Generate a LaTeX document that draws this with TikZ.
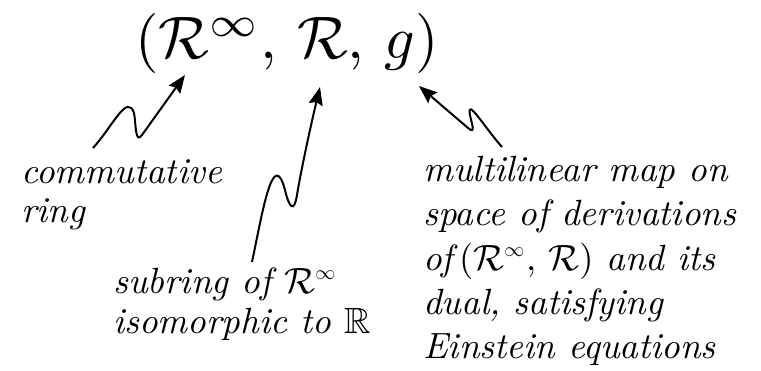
\RequirePackage{fix-cm}
\documentclass[tikz,border=0pt]{standalone}
\usepackage{amssymb}
\usepackage{graphicx}
\usetikzlibrary{arrows.meta}
\newcommand{\lbltext}[1]{\scalebox{3.65}{\fontsize{10}{12}\selectfont\itshape #1}}
\newcommand{\ttltext}[1]{\scalebox{6.0}{\fontsize{10}{12}\selectfont #1}}
\newcommand{\sinf}{\mbox{\scalebox{0.55}{$\infty$}}}
\tikzset{
  lbl/.style={anchor=base west, inner sep=0pt},
  ttl/.style={anchor=base, inner sep=0pt},
  arr/.style={line width=2pt, -{Stealth[length=18pt,width=14pt,inset=2.5pt]}}
}
\begin{document}
\begin{tikzpicture}[x=1pt,y=-1pt]
\useasboundingbox (0,0) rectangle (761,370);
\node[ttl] (title) at (287,58) {\ttltext{$(\mathcal{R}^\infty,\,\mathcal{R},\,g)$}};
% left
\node[lbl] (c1) at (21,183) {\lbltext{commutative}};
\node[lbl] (c2) at (21,222) {\lbltext{ring}};
% middle
\node[lbl] (s1) at (113,293) {\lbltext{subring of $\mathcal{R}^{\sinf}$}};
\node[lbl] (s2) at (113,333) {\lbltext{isomorphic to $\mathbb{R}$}};
% right
\node[lbl] (m1) at (423,181) {\lbltext{multilinear map on}};
\node[lbl] (m2) at (423,225) {\lbltext{space of derivations}};
\node[lbl] (m3) at (423,270) {\lbltext{of\,$(\mathcal{R}^{\sinf},\,\mathcal{R})$ and its}};
\node[lbl] (m4) at (423,314) {\lbltext{dual, satisfying}};
\node[lbl] (m5) at (423,358) {\lbltext{Einstein equations}};
% arrow anchors
\coordinate (a1s) at (93,148);
\coordinate (a1e) at (185,75);
\coordinate (a2s) at (252,262);
\coordinate (a2e) at (320,87);
\coordinate (a3s) at (502,147);
\coordinate (a3e) at (419,86);
\draw[arr] (a1s) .. controls (113,126) and (127,93) .. (134,113)
  .. controls (136,123) and (135,145) .. (142,135) -- (a1e);
\draw[arr] (a2s) .. controls (262,215) and (273,145) .. (285,190)
  .. controls (289,207) and (294,214) .. (297,195)
  .. controls (301,170) and (312,120) .. (a2e);
\draw[arr] (a3s) .. controls (485,128) and (466,96) .. (470,115)
  .. controls (472,125) and (476,134.5) .. (468,128) -- (a3e);
\end{tikzpicture}
\end{document}
